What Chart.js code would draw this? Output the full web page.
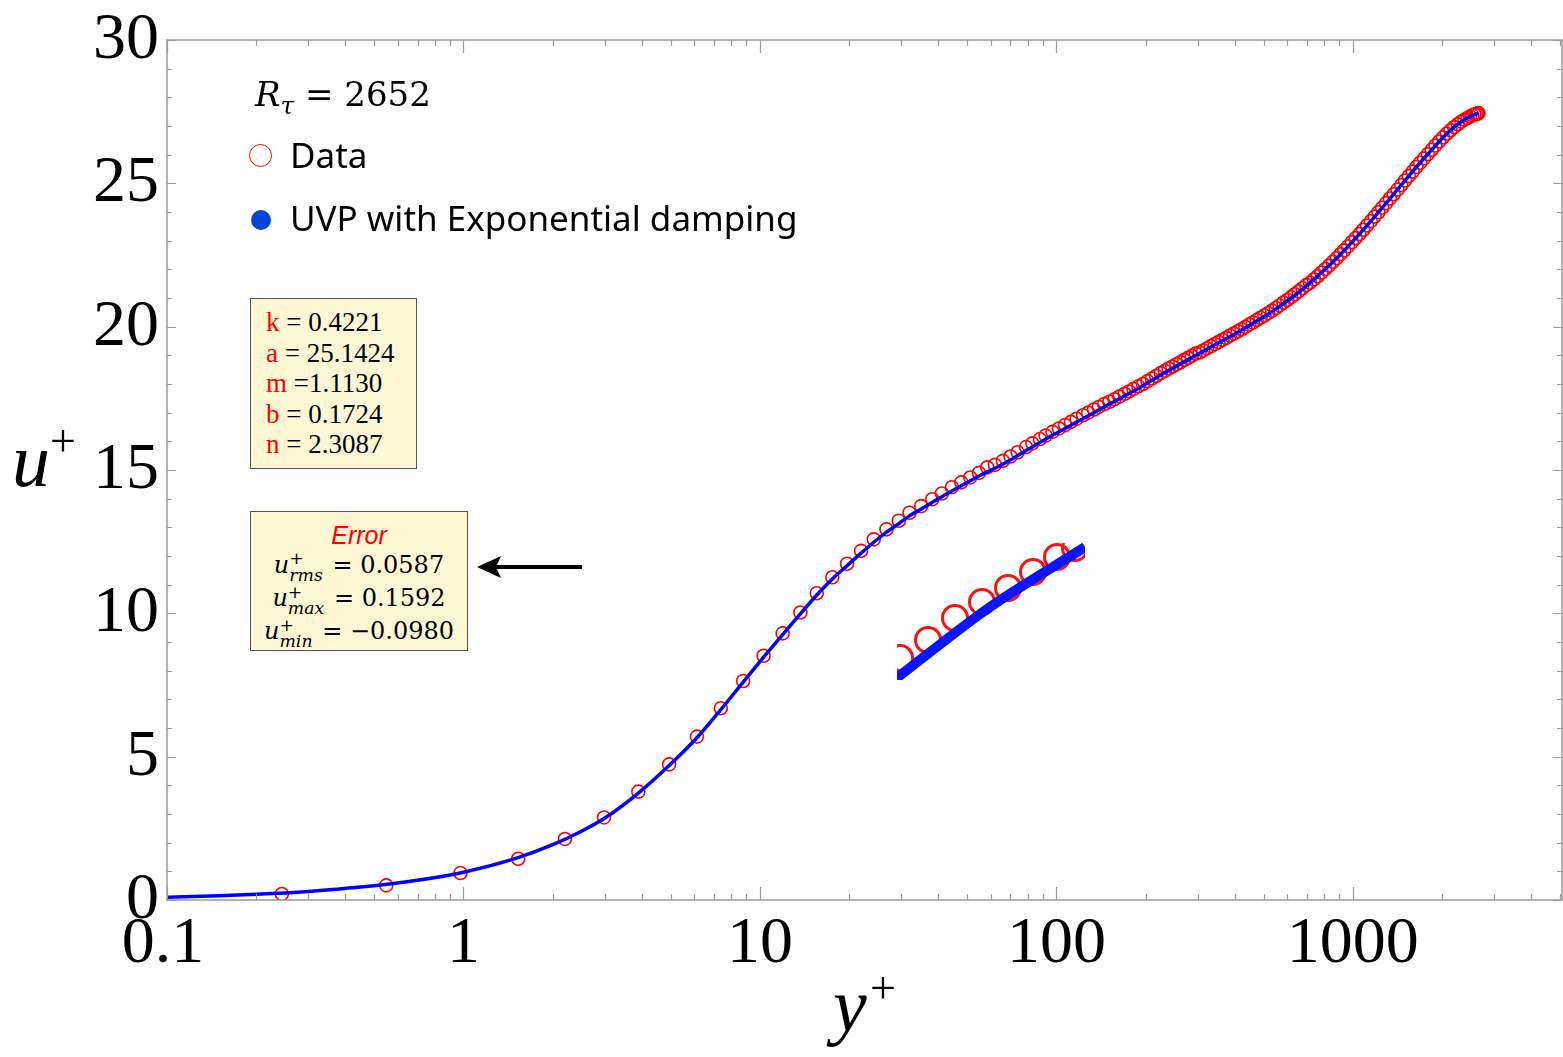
<!DOCTYPE html>
<html lang="en">
<head>
  <meta charset="UTF-8">
  <title>u+ vs y+ (R_tau = 2652)</title>
  <script src="https://cdn.jsdelivr.net/npm/chart.js"></script>
  <style>
    body { margin: 0; background: #fff; }
    #wrap { position: relative; width: 1563px; height: 1057px; background: #fff; }
    #chart { position: absolute; left: 0; top: 0; }
    #inset { position: absolute; left: 897px; top: 543px; }
    .abs { position: absolute; white-space: nowrap; color: #000; }
    .serif { font-family: "Liberation Serif", "Times New Roman", serif; }
    .sans { font-family: "Noto Sans", "Open Sans", sans-serif; }
    .red { color: #ff0000; }
    .box {
      position: absolute; box-sizing: border-box;
      background: #fdf8d3; border: 1px solid #555;
    }
    #params { left: 250px; top: 298px; width: 167px; height: 171px; padding: 8px 0 0 15px;
      font: 27px/30.5px "Liberation Serif", serif; }
    #errors { left: 250px; top: 511px; width: 218px; height: 140px; padding-top: 8px; text-align: center;
      font: 24px/30.5px "DejaVu Serif", serif; }
    #errors .title { font: italic 25px/30px "Liberation Sans", Arial, sans-serif; color: #ff0000; }
    .ss { display: inline-block; vertical-align: -0.45em; font-size: 0.72em; line-height: 0.95; text-align: left; margin-right: 2px; }
    .ss span { display: block; }
  </style>
</head>
<body>
<div id="wrap">
  <canvas id="chart" width="1563" height="1057"></canvas>
  <canvas id="inset" width="188" height="137"></canvas>

  <!-- legend -->
  <div class="abs" style="left:255px;top:75px;font:34px/38px 'DejaVu Serif',serif;">
    <i>R<sub style="font-size:0.72em;">τ</sub></i> = 2652
  </div>
  <div class="abs" style="left:249px;top:144px;width:21px;height:21px;border:1.5px solid #ff0000;border-radius:50%;"></div>
  <div class="abs sans" style="left:290px;top:132px;font-size:35px;line-height:46px;">Data</div>
  <div class="abs" style="left:251px;top:210px;width:20px;height:20px;background:#0045d6;border-radius:50%;"></div>
  <div class="abs sans" style="left:290px;top:195px;font-size:35px;line-height:46px;">UVP with Exponential damping</div>

  <!-- fitted parameters -->
  <div id="params" class="box">
    <div><span class="red">k</span> = 0.4221</div>
    <div><span class="red">a</span> = 25.1424</div>
    <div><span class="red">m</span> =1.1130</div>
    <div><span class="red">b</span> = 0.1724</div>
    <div><span class="red">n</span> = 2.3087</div>
  </div>

  <!-- error box -->
  <div id="errors" class="box">
    <div class="title">Error</div>
    <div><i>u</i><span class="ss"><span>+</span><span><i>rms</i></span></span> = 0.0587</div>
    <div><i>u</i><span class="ss"><span>+</span><span><i>max</i></span></span> = 0.1592</div>
    <div><i>u</i><span class="ss"><span>+</span><span><i>min</i></span></span> = −0.0980</div>
  </div>

  <!-- axis titles -->
  <div class="abs serif" style="left:12px;top:422px;font-size:76px;line-height:76px;font-style:italic;">u</div>
  <div class="abs serif" style="left:50px;top:418px;font-size:46px;line-height:46px;">+</div>
  <div class="abs serif" style="left:833px;top:967px;font-size:76px;line-height:76px;font-style:italic;">y</div>
  <div class="abs serif" style="left:870px;top:965px;font-size:46px;line-height:46px;">+</div>
</div>

<script>
  // DNS data (red circles)
  const yPlusData = [0.244, 0.549, 0.977, 1.53, 2.2, 2.98, 3.89, 4.94, 6.13, 7.38,
    8.78, 10.29, 11.93, 13.69, 15.55, 17.55, 19.67, 21.94, 24.21, 26.72,
    29.42, 31.95, 34.99, 38.11, 41.09, 44.41, 47.77, 51.22, 54.81, 58.47,
    62, 66, 70, 74, 79, 83, 88, 92, 97, 102,
    107, 112, 117, 123, 128, 134, 139, 145, 151, 157,
    163, 170, 176, 182, 189, 196, 203, 210, 217,
    225, 232, 239, 246, 254, 262, 270, 278, 286, 295,
    304, 313, 322, 332, 342, 352, 363, 374, 385, 397,
    409, 421, 434, 447, 460, 474, 488, 503, 518, 534,
    550, 566, 583, 601, 619, 637, 656, 676, 696, 717,
    739, 761, 784, 807, 831, 856, 882, 908, 935, 963,
    992, 1022, 1052, 1084, 1116, 1150, 1184, 1220, 1256, 1294,
    1333, 1373, 1414, 1456, 1500, 1545, 1591, 1638, 1687, 1738,
    1790, 1843, 1898, 1955, 2013, 2073, 2134, 2196, 2258, 2320,
    2380, 2435, 2485, 2530, 2570, 2605, 2630, 2645, 2652];
  const uPlusData = [0.21, 0.51, 0.94, 1.44, 2.13, 2.88, 3.78, 4.73, 5.70, 6.69,
    7.64, 8.52, 9.30, 10.03, 10.70, 11.26, 11.73, 12.18, 12.58, 12.93,
    13.23, 13.51, 13.74, 13.98, 14.18, 14.40, 14.57, 14.74, 14.90, 15.09,
    15.18, 15.32, 15.47, 15.62, 15.80, 15.93, 16.08, 16.20, 16.33, 16.45,
    16.57, 16.68, 16.79, 16.91, 17.00, 17.11, 17.20, 17.30, 17.38, 17.47,
    17.56, 17.66, 17.74, 17.83, 17.92, 18.00, 18.10, 18.19, 18.28,
    18.38, 18.46, 18.54, 18.61, 18.69, 18.76, 18.84, 18.91, 18.98, 19.06,
    19.10, 19.17, 19.24, 19.32, 19.39, 19.46, 19.54, 19.61, 19.69, 19.76,
    19.84, 19.91, 19.99, 20.07, 20.14, 20.23, 20.31, 20.39, 20.47, 20.56,
    20.65, 20.74, 20.84, 20.93, 21.03, 21.13, 21.23, 21.34, 21.45, 21.53,
    21.65, 21.76, 21.89, 22.01, 22.13, 22.26, 22.39, 22.53, 22.66, 22.80,
    22.95, 23.09, 23.23, 23.38, 23.53, 23.68, 23.84, 23.99, 24.15, 24.31,
    24.47, 24.62, 24.78, 24.94, 25.10, 25.25, 25.41, 25.57, 25.72, 25.87,
    26.02, 26.17, 26.32, 26.46, 26.60, 26.73, 26.85, 26.96, 27.06, 27.15,
    27.22, 27.28, 27.33, 27.37, 27.40, 27.42, 27.43, 27.44, 27.45];

  // UVP with exponential damping (blue line)
  const yPlusFit = [0.1, 0.15, 0.2, 0.3, 0.45, 0.7, 1, 1.5, 2, 2.5,
    3, 3.9, 4.94, 6.13, 7.38, 8.78, 10.29, 11.93, 13.69, 15.55,
    17.55, 19.67, 21.94, 24.21, 26.72, 29.42, 31.95, 34.99, 38.11, 41.09,
    47.77, 54.81, 62, 70, 79, 88, 97, 107, 117, 128,
    139, 151, 163, 176, 189, 203, 217, 232, 254, 278,
    304, 332, 363, 397, 434, 474, 518, 566, 619, 676,
    739, 807, 882, 963, 1052, 1150, 1256, 1373, 1500, 1638,
    1790, 1955, 2134, 2320, 2485, 2570, 2630, 2652];
  const uPlusFit = [0.1, 0.15, 0.2, 0.3, 0.45, 0.69, 0.97, 1.45, 1.93, 2.40,
    2.86, 3.74, 4.69, 5.66, 6.64, 7.60, 8.47, 9.26, 9.98, 10.64,
    11.20, 11.66, 12.10, 12.48, 12.83, 13.13, 13.40, 13.64, 13.87, 14.07,
    14.45, 14.79, 15.06, 15.35, 15.68, 15.96, 16.21, 16.45, 16.67, 16.89,
    17.10, 17.30, 17.48, 17.67, 17.85, 18.04, 18.22, 18.40, 18.63, 18.85,
    19.07, 19.29, 19.51, 19.73, 19.96, 20.20, 20.44, 20.71, 21.00, 21.31,
    21.65, 22.01, 22.39, 22.80, 23.23, 23.68, 24.15, 24.62, 25.10, 25.57,
    26.02, 26.46, 26.85, 27.15, 27.33, 27.40, 27.43, 27.45];

  // tick labels
  const xTickValues = [0.1, 1, 10, 100, 1000];
  const xTickLabels = ['0.1', '1', '10', '100', '1000'];
  const yTickValues = [0, 5, 10, 15, 20, 25, 30];

  // magnified patch (local coordinates of the small picture)
  const insetCircleX = [3, 31, 58, 85, 111, 136, 160, 178];
  const insetCircleY = [22, 40, 62, 78, 92, 108, 123, 132];
  const insetLineX = [-10, 1, 93, 188, 200];
  const insetLineY = [-6, 3, 73, 133, 141];

  const toPoints = (xs, ys) => xs.map((x, i) => ({ x: x, y: ys[i] }));

  // frame with inward ticks on all four sides, tick labels and the arrow
  const framePlugin = {
    id: 'frame',
    afterDatasetsDraw(chart) {
      const { ctx, chartArea: a, scales: { x, y } } = chart;
      ctx.save();
      ctx.strokeStyle = '#9a9a9a';
      ctx.lineWidth = 1.5;
      ctx.strokeRect(a.left, a.top, a.right - a.left, a.bottom - a.top);

      ctx.lineWidth = 1.2;
      ctx.beginPath();
      for (let d = 0.1; d < x.max; d *= 10) {
        for (let m = 1; m <= 9; m++) {
          const v = d * m;
          if (v > x.max) break;
          const px = Math.round(x.getPixelForValue(v)) + 0.5;
          const len = m === 1 ? 13 : 6;
          ctx.moveTo(px, a.bottom); ctx.lineTo(px, a.bottom - len);
          ctx.moveTo(px, a.top); ctx.lineTo(px, a.top + len);
        }
      }
      for (let v = 0; v <= 30; v++) {
        const py = Math.round(y.getPixelForValue(v)) + 0.5;
        const len = v % 5 === 0 ? 9 : 5;
        ctx.moveTo(a.left, py); ctx.lineTo(a.left + len, py);
        ctx.moveTo(a.right, py); ctx.lineTo(a.right - len, py);
      }
      ctx.stroke();

      ctx.fillStyle = '#000';
      ctx.font = '66px "Liberation Serif"';
      ctx.textAlign = 'center';
      ctx.textBaseline = 'alphabetic';
      xTickValues.forEach((v, i) => {
        const shift = i === 0 ? -4 : 0;
        ctx.fillText(xTickLabels[i], x.getPixelForValue(v) + shift, 962);
      });
      ctx.textAlign = 'right';
      yTickValues.forEach(v => {
        ctx.fillText(String(v), 159, y.getPixelForValue(v) + 18);
      });

      // arrow pointing at the error box
      ctx.strokeStyle = '#000';
      ctx.lineWidth = 4;
      ctx.beginPath();
      ctx.moveTo(495, 567); ctx.lineTo(582, 567);
      ctx.stroke();
      ctx.beginPath();
      ctx.moveTo(477, 567); ctx.lineTo(501, 556); ctx.lineTo(496, 567); ctx.lineTo(501, 578);
      ctx.closePath();
      ctx.fill();
      ctx.restore();
    }
  };

  new Chart(document.getElementById('chart'), {
    type: 'scatter',
    data: {
      datasets: [
        {
          label: 'UVP with Exponential damping',
          data: toPoints(yPlusFit, uPlusFit),
          showLine: true,
          borderColor: '#0000ff',
          borderWidth: 3.5,
          pointRadius: 0,
          cubicInterpolationMode: 'monotone',
          order: 0
        },
        {
          label: 'Data',
          data: toPoints(yPlusData, uPlusData),
          showLine: false,
          pointStyle: 'circle',
          pointRadius: 6.5,
          borderWidth: 1.6,
          borderColor: '#ff0000',
          backgroundColor: 'rgba(0,0,0,0)',
          order: 1
        }
      ]
    },
    options: {
      responsive: false,
      animation: false,
      events: [],
      layout: { autoPadding: false, padding: { left: 167, right: 1, top: 40, bottom: 157 } },
      plugins: { legend: { display: false }, tooltip: { enabled: false } },
      scales: {
        x: { type: 'logarithmic', min: 0.1, max: 5075, display: false },
        y: { type: 'linear', min: 0, max: 30, display: false }
      }
    },
    plugins: [framePlugin]
  });

  new Chart(document.getElementById('inset'), {
    type: 'scatter',
    data: {
      datasets: [
        {
          data: toPoints(insetLineX, insetLineY),
          showLine: true,
          borderColor: '#0a14ff',
          borderWidth: 10,
          pointRadius: 0,
          tension: 0.3,
          order: 0
        },
        {
          data: toPoints(insetCircleX, insetCircleY),
          pointRadius: 12.5,
          borderWidth: 3,
          borderColor: '#ff1010',
          backgroundColor: 'rgba(0,0,0,0)',
          order: 1
        }
      ]
    },
    options: {
      responsive: false,
      animation: false,
      events: [],
      layout: { autoPadding: false, padding: 0 },
      plugins: { legend: { display: false }, tooltip: { enabled: false } },
      scales: {
        x: { type: 'linear', min: 0, max: 188, display: false },
        y: { type: 'linear', min: 0, max: 137, display: false }
      }
    }
  });
</script>
</body>
</html>
